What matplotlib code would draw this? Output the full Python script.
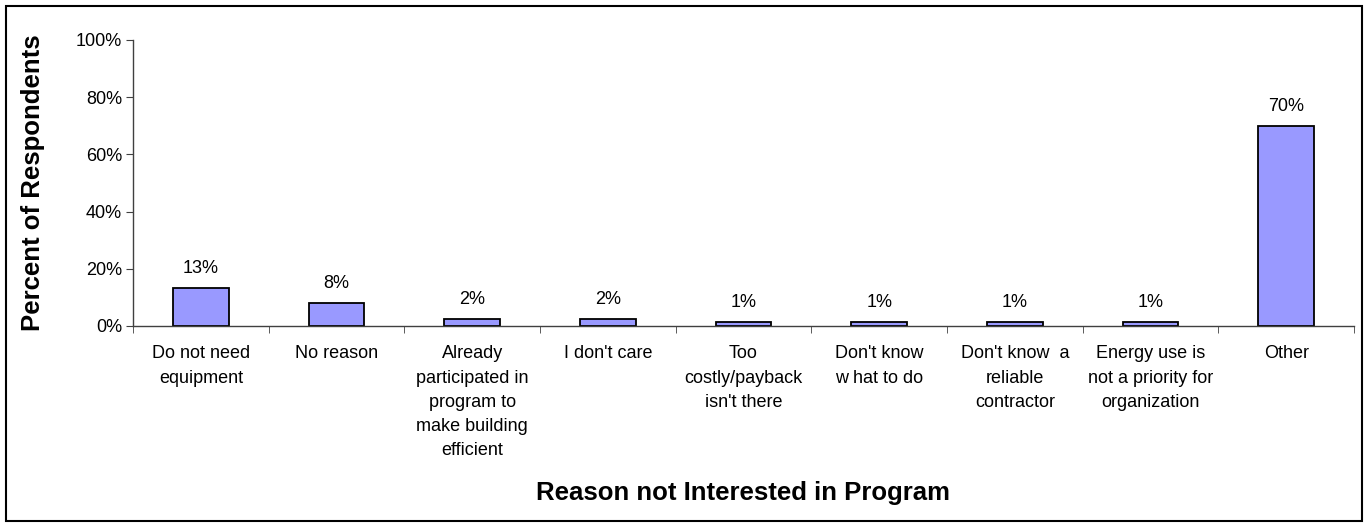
import numpy as np
import matplotlib
matplotlib.use("Agg")
import matplotlib.pyplot as plt
from matplotlib.patches import Rectangle

plt.rcParams['font.family'] = ['Liberation Sans', 'DejaVu Sans']

categories = ['Do not need\nequipment', 'No reason',
              'Already\nparticipated in\nprogram to\nmake building\nefficient',
              "I don't care", "Too\ncostly/payback\nisn't there",
              "Don't know\nw hat to do", "Don't know  a\nreliable\ncontractor",
              'Energy use is\nnot a priority for\norganization', 'Other']
values = [13.2, 8.1, 2.3, 2.3, 1.3, 1.3, 1.3, 1.3, 70.0]
yticks = [0, 20, 40, 60, 80, 100]

fig = plt.figure(figsize=(13.68, 5.27), dpi=100)
ax = fig.add_axes([133/1368, 1-326/527, (1354-133)/1368, (326-40)/527])

x = np.arange(len(categories))
bars = ax.bar(x, values, width=0.41, color='#9999FF', edgecolor='black', linewidth=1.3)

# data labels
for b, v in zip(bars, values):
    ax.annotate('%.0f%%' % v, (b.get_x() + b.get_width()/2, b.get_height()),
                xytext=(0, 8), textcoords='offset points',
                ha='center', va='bottom', fontsize=13)

ax.set_xlim(-0.5, len(categories) - 0.5)
ax.set_ylim(0, 100)
ax.set_yticks(yticks)
ax.set_yticklabels(['%d%%' % t for t in yticks], fontsize=13)

ax.set_xticks(x)
ax.set_xticklabels(categories, fontsize=13, linespacing=1.55, va='top')
ax.set_xticks(np.arange(len(categories) + 1) - 0.5, minor=True)
ax.tick_params(axis='x', which='major', length=0, pad=14)
ax.tick_params(axis='x', which='minor', length=5, direction='out', color='#404040')
ax.tick_params(axis='y', length=5, direction='out', color='#404040', pad=3)

for s in ['top', 'right']:
    ax.spines[s].set_visible(False)
for s in ['left', 'bottom']:
    ax.spines[s].set_color('#404040')
    ax.spines[s].set_linewidth(1.0)

ax.set_ylabel('Percent of Respondents', fontsize=18.5, fontweight='bold')
ax.yaxis.set_label_coords((45-133)/1221, 0.5)
fig.text((133+1354)/2/1368, 1-493/527, 'Reason not Interested in Program',
         ha='center', va='center', fontsize=18.5, fontweight='bold')

# outer chart border
fig.patches.append(Rectangle((6/1368, 6/527), 1356/1368, 515/527, transform=fig.transFigure,
                             fill=False, edgecolor='black', linewidth=1.5))

fig.savefig('out.png', dpi=100)
